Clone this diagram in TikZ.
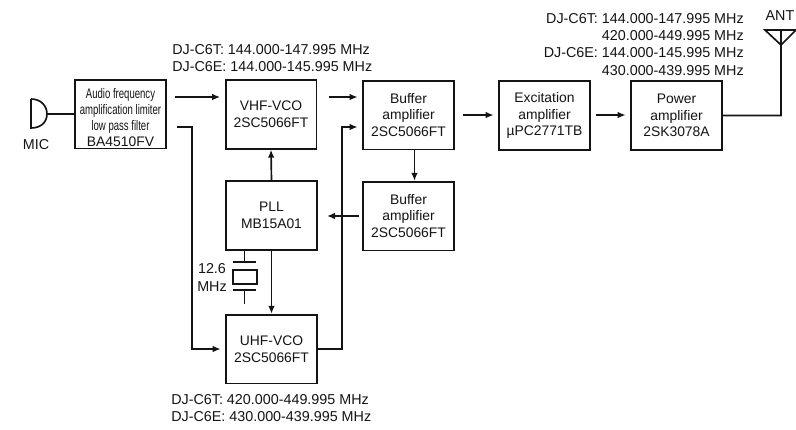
\documentclass[tikz,border=0pt]{standalone}
\usepackage{fontspec}
\setmainfont{Liberation Sans}
\newfontfamily\narrowfont[FakeStretch=0.69]{Liberation Sans}
\usepackage{xcolor}
\usetikzlibrary{arrows.meta,positioning,calc}
\definecolor{ink}{HTML}{141414}
\tikzset{
  blockbox/.style={draw=ink, fill=white, line width=1.25pt, minimum width=68pt, minimum height=51.5pt, inner sep=0pt, align=center, text=ink, font=\fontsize{10.4}{12.5}\selectfont},
  freqtext/.style={inner sep=0pt, text=ink, font=\fontsize{10.75}{13}\selectfont},
  wire/.style={line width=1.25pt, color=ink},
  wirearrow/.style={wire, -{Latex[length=6pt,width=5pt]}},
  gaparrow/.style={wirearrow, shorten <=6pt, shorten >=3.5pt}
}

\begin{document}
\begin{tikzpicture}[x=0.75pt,y=-0.75pt]
  \useasboundingbox (0,0) rectangle (796,429);
  % blocks
  \node[blockbox, font=\narrowfont\fontsize{10.4}{12}\selectfont] (audio) at (120.5,114) {\rule{0pt}{12.5pt}Audio frequency\\amplification limiter\\low pass filter\\{\fontspec{Liberation Sans}BA4510FV}};
  \node[blockbox] (vhf) at (271,114.5) {VHF-VCO\\2SC5066FT};
  \node[blockbox] (bufA) at (408.5,115) {Buffer\\amplifier\\2SC5066FT};
  \node[blockbox] (exc) at (544.5,115.5) {Excitation\\amplifier\\µPC2771TB};
  \node[blockbox] (pwr) at (676.5,115.5) {Power\\amplifier\\2SK3078A};
  \node[blockbox] (bufB) at (408.5,216) {Buffer\\amplifier\\2SC5066FT};
  \node[blockbox] (pll) at (271.5,215.5) {PLL\\MB15A01};
  \node[blockbox] (uhf) at (271.5,349) {UHF-VCO\\2SC5066FT};

  % text
  \node[freqtext, anchor=north west, align=left] (vhfFreq) at (172,44) {DJ-C6T: 144.000-147.995 MHz\\DJ-C6E: 144.000-145.995 MHz};
  \node[freqtext, anchor=north west, align=left] (uhfFreq) at (171,394) {DJ-C6T: 420.000-449.995 MHz\\DJ-C6E: 430.000-439.995 MHz};
  \node[freqtext, anchor=north east, align=right] (pwrFreq) at (744,13) {DJ-C6T: 144.000-147.995 MHz\\420.000-449.995 MHz\\DJ-C6E: 144.000-145.995 MHz\\430.000-439.995 MHz};
  \node[freqtext] (micLabel) at (36,145) {MIC};
  \node[freqtext] (antLabel) at (780,16) {ANT};
  \node[freqtext, align=center] (xtalLabel) at (212,277.5) {12.6\\MHz};

  % levels of the two inputs on the left side of a block
  \coordinate (upper) at (0,97);
  \coordinate (lower) at (0,127);
  \coordinate (middle) at (0,115);
  \coordinate (mic) at (47,114);
  \coordinate (antTip) at (781,45);
  \coordinate (audioBend) at (192,127);
  \coordinate (uhfBend) at (342,349);
  \coordinate (xtalTop) at (244.5,262);
  \coordinate (xtalBot) at (244.5,290);
  \coordinate (xtalEnd) at (244.5,304);

  % microphone
  \draw[wire] (31,99) -- (31,128) .. controls (41,128) and (47,122) .. (mic) .. controls (47,106) and (41,99) .. (31,99);
  \draw[wire] (mic) -- (audio.west |- mic);

  % signal path
  \draw[gaparrow] (audio.east |- upper) -- (vhf.west |- upper);
  \draw[gaparrow, shorten <=9pt] (vhf.east |- upper) -- (bufA.west |- upper);
  \draw[wirearrow, shorten <=7.5pt, shorten >=3.5pt] (audio.east |- lower) -- (audioBend) |- (uhf.west);
  \draw[wirearrow, shorten >=3.5pt] (uhf.east) -- (uhfBend) |- (bufA.west |- lower);
  \draw[gaparrow] (bufA.east |- middle) -- (exc.west |- middle);
  \draw[gaparrow, shorten <=4pt] (exc.east |- middle) -- (pwr.west |- middle);
  \draw[wirearrow] ([xshift=4.5pt]bufA.south) -- ([xshift=4.5pt]bufB.north);
  \draw[wirearrow, shorten <=2.5pt, shorten >=7pt] (bufB.west) -- (pll.east |- bufB.west);
  \draw[wirearrow] (pll.north) -- (vhf.south);
  \draw[wirearrow] (pll.south) -- (uhf.north);

  % antenna
  \draw[wire] (pwr.east) -| (antTip) -- (765,30) -- (796,30) -- (antTip);
  \draw[wire] (antTip) -- (781,30);

  % crystal
  \draw[wire] (pll.south -| xtalTop) -- (xtalTop);
  \draw[wire] (233,262) -- (256,262);
  \draw[wire] (233,270) rectangle (257,284);
  \draw[wire] (233,290) -- (256,290);
  \draw[wire] (xtalBot) -- (xtalEnd);
\end{tikzpicture}
\end{document}
